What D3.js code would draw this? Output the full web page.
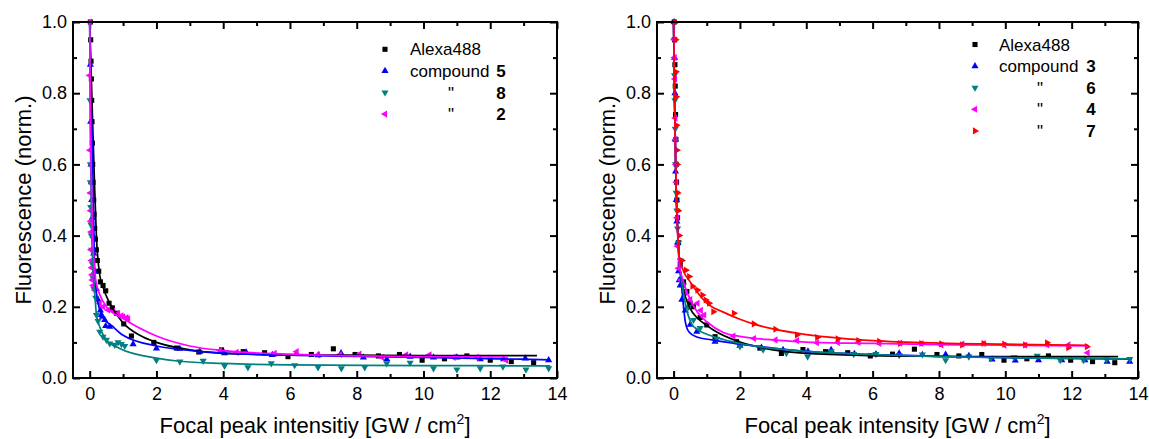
<!DOCTYPE html>
<html>
<head>
<meta charset="utf-8">
<script src="https://cdn.jsdelivr.net/npm/d3@7"></script>
<style>
  body { margin: 0; background: #fff; }
  svg { font-family: "Liberation Sans", Arial, sans-serif; }
  .tick line { stroke: #000; stroke-width: 2; }
  .tick text { font-size: 18px; fill: #000; }
</style>
</head>
<body>
<svg id="chart" width="1149" height="439"></svg>
<script>
// ---- left panel: measured points [intensity, fluorescence] ----
let leftAlexa = [[0.02,1.0],[0.03,0.95],[0.04,0.89],[0.05,0.84],[0.06,0.78],[0.07,0.72],[0.08,0.66],[0.09,0.6],[0.1,0.55],[0.12,0.5],[0.13,0.46],[0.15,0.42],[0.17,0.39],[0.2,0.36],[0.23,0.33],[0.27,0.3],[0.32,0.27],[0.4,0.26],[0.48,0.245],[0.58,0.21],[0.68,0.197],[0.8,0.182],[1.02,0.152],[1.25,0.118],[1.92,0.1],[2.6,0.084],[3.27,0.073],[3.95,0.079],[4.6,0.074],[5.24,0.071],[5.94,0.06],[6.64,0.066],[7.3,0.082],[7.95,0.066],[8.65,0.062],[9.28,0.066],[9.96,0.05],[10.63,0.054],[11.3,0.062],[12.0,0.05],[12.63,0.046],[13.3,0.043]];
let leftC5 = [[0.02,0.88],[0.03,0.72],[0.04,0.6],[0.05,0.55],[0.06,0.5],[0.08,0.45],[0.1,0.4],[0.12,0.35],[0.15,0.3],[0.2,0.25],[0.25,0.22],[0.32,0.19],[0.35,0.177],[0.38,0.172],[0.45,0.163],[0.48,0.146],[0.6,0.144],[1.3,0.095],[2.0,0.083],[2.7,0.082],[3.3,0.074],[4.04,0.07],[4.69,0.072],[5.47,0.065],[6.2,0.068],[6.85,0.064],[7.53,0.07],[8.2,0.058],[8.9,0.053],[9.6,0.06],[10.3,0.058],[11.0,0.058],[11.7,0.053],[12.4,0.053],[13.05,0.055],[13.75,0.05]];
let leftC8 = [[0.01,0.78],[0.02,0.6],[0.02,0.55],[0.03,0.48],[0.04,0.43],[0.05,0.4],[0.06,0.36],[0.08,0.32],[0.1,0.28],[0.13,0.25],[0.18,0.225],[0.2,0.177],[0.25,0.16],[0.3,0.13],[0.4,0.116],[0.5,0.107],[0.6,0.097],[0.75,0.093],[0.85,0.1],[0.95,0.095],[1.05,0.09],[2.0,0.05],[2.7,0.046],[3.4,0.048],[4.04,0.034],[4.74,0.03],[5.44,0.041],[6.14,0.036],[6.84,0.03],[7.54,0.027],[8.24,0.03],[8.9,0.041],[9.6,0.043],[10.3,0.027],[11.0,0.024],[11.7,0.027],[12.38,0.032],[13.07,0.024],[13.75,0.027]];
let leftC2 = [[0.0,1.0],[0.0,0.85],[0.01,0.64],[0.02,0.52],[0.03,0.47],[0.03,0.44],[0.04,0.41],[0.04,0.36],[0.05,0.33],[0.06,0.31],[0.07,0.29],[0.08,0.275],[0.1,0.26],[0.15,0.247],[0.3,0.21],[0.4,0.2],[0.55,0.191],[0.7,0.188],[0.85,0.182],[0.95,0.175],[1.0,0.172],[1.1,0.17],[1.15,0.166],[3.9,0.077],[4.4,0.072],[5.54,0.069],[6.2,0.074],[6.84,0.065],[7.5,0.066],[8.08,0.067],[8.76,0.058],[9.48,0.065],[10.18,0.065],[10.9,0.058],[11.6,0.058],[12.47,0.05]];

// ---- left panel: fitted curves ----
let leftAlexaFit = [[0.0,1.0],[0.05,0.84],[0.1,0.68],[0.15,0.53],[0.2,0.4],[0.3,0.29],[0.4,0.255],[0.6,0.21],[1.0,0.155],[1.5,0.12],[2.0,0.1],[3.0,0.079],[4.0,0.069],[6.0,0.065],[8.0,0.064],[10.0,0.063],[13.4,0.063]];
let leftC5Fit = [[0.0,1.0],[0.05,0.75],[0.1,0.56],[0.15,0.3],[0.25,0.21],[0.4,0.172],[0.7,0.144],[1.0,0.12],[2.0,0.09],[2.7,0.08],[4.0,0.07],[6.0,0.064],[10.0,0.058],[13.8,0.051]];
let leftC8Fit = [[0.0,1.0],[0.02,0.7],[0.05,0.45],[0.1,0.31],[0.15,0.24],[0.2,0.18],[0.3,0.144],[0.5,0.107],[0.9,0.083],[2.0,0.056],[2.7,0.047],[4.0,0.041],[6.0,0.037],[10.0,0.035],[13.8,0.034]];
let leftC2Fit = [[0.0,1.0],[0.02,0.75],[0.05,0.55],[0.1,0.38],[0.15,0.3],[0.2,0.265],[0.3,0.235],[0.5,0.2],[1.0,0.167],[2.0,0.118],[3.0,0.09],[4.0,0.077],[6.0,0.067],[8.0,0.062],[10.0,0.06],[12.5,0.059]];

// ---- right panel: measured points ----
let rightAlexa = [[0.02,1.0],[0.03,0.95],[0.04,0.88],[0.05,0.82],[0.06,0.74],[0.07,0.67],[0.08,0.6],[0.09,0.55],[0.1,0.5],[0.12,0.45],[0.15,0.38],[0.2,0.32],[0.3,0.27],[0.4,0.243],[0.5,0.21],[0.6,0.2],[0.8,0.17],[1.0,0.149],[1.25,0.116],[1.9,0.102],[2.6,0.084],[3.25,0.069],[3.9,0.08],[4.58,0.074],[5.25,0.071],[5.93,0.062],[6.6,0.067],[7.26,0.081],[7.94,0.066],[8.6,0.062],[9.29,0.066],[9.96,0.05],[10.65,0.054],[11.3,0.062],[11.97,0.05],[12.63,0.046],[13.3,0.043]];
let rightC3 = [[0.02,1.0],[0.03,0.9],[0.04,0.8],[0.05,0.67],[0.06,0.58],[0.08,0.5],[0.1,0.44],[0.12,0.38],[0.15,0.3],[0.17,0.275],[0.2,0.26],[0.25,0.22],[0.35,0.19],[0.5,0.15],[0.7,0.13],[1.25,0.102],[2.0,0.091],[2.65,0.085],[3.3,0.079],[4.05,0.075],[4.75,0.079],[5.45,0.068],[6.1,0.067],[6.8,0.069],[7.5,0.065],[8.2,0.066],[8.9,0.062],[9.6,0.052],[10.3,0.049],[11.0,0.05],[11.7,0.05],[12.4,0.05],[13.07,0.046],[13.75,0.046]];
let rightC6 = [[0.02,0.95],[0.03,0.85],[0.04,0.78],[0.05,0.7],[0.06,0.6],[0.08,0.52],[0.1,0.47],[0.12,0.42],[0.15,0.38],[0.2,0.33],[0.3,0.26],[0.45,0.2],[0.6,0.163],[0.8,0.14],[1.3,0.11],[2.0,0.089],[2.7,0.08],[3.4,0.07],[4.04,0.06],[4.75,0.075],[5.43,0.067],[6.1,0.067],[6.8,0.064],[7.5,0.066],[8.2,0.05],[8.9,0.06],[9.56,0.055],[10.26,0.058],[10.96,0.062],[11.66,0.05],[12.36,0.05],[13.05,0.052],[13.75,0.053]];
let rightC4 = [[0.02,0.95],[0.03,0.9],[0.04,0.84],[0.05,0.73],[0.06,0.67],[0.07,0.6],[0.08,0.55],[0.1,0.45],[0.12,0.37],[0.15,0.308],[0.22,0.275],[0.35,0.24],[0.5,0.22],[0.72,0.21],[0.82,0.19],[0.92,0.177],[1.8,0.118],[2.42,0.111],[3.07,0.107],[3.72,0.105],[4.32,0.099],[4.95,0.1],[5.57,0.1],[6.2,0.097],[6.83,0.098],[7.47,0.097],[8.07,0.093],[8.7,0.095],[9.35,0.097],[9.97,0.092],[10.6,0.092],[11.26,0.093],[11.9,0.093],[12.48,0.071]];
let rightC7 = [[0.05,1.0],[0.06,0.95],[0.07,0.86],[0.08,0.79],[0.09,0.71],[0.1,0.64],[0.11,0.6],[0.12,0.52],[0.14,0.47],[0.17,0.4],[0.25,0.33],[0.37,0.303],[0.47,0.285],[0.57,0.258],[0.72,0.247],[0.87,0.233],[0.97,0.219],[1.07,0.21],[1.2,0.186],[1.82,0.182],[2.42,0.152],[3.07,0.137],[3.72,0.121],[4.33,0.114],[4.95,0.11],[5.57,0.105],[6.2,0.103],[6.83,0.097],[7.47,0.097],[8.07,0.096],[8.7,0.093],[9.35,0.097],[9.97,0.095],[10.6,0.093],[11.26,0.099],[11.9,0.085],[12.46,0.088]];

// ---- right panel: fitted curves ----
let rightAlexaFit = [[0.0,1.0],[0.03,0.78],[0.07,0.56],[0.12,0.42],[0.17,0.33],[0.25,0.27],[0.35,0.23],[0.5,0.195],[0.7,0.17],[1.0,0.148],[1.2,0.135],[2.0,0.101],[3.0,0.079],[4.0,0.069],[6.0,0.063],[8.0,0.061],[10.0,0.06],[13.4,0.06]];
let rightC3Fit = [[0.0,1.0],[0.03,0.78],[0.07,0.56],[0.12,0.42],[0.17,0.33],[0.25,0.25],[0.3,0.2],[0.35,0.16],[0.46,0.13],[0.7,0.115],[1.15,0.107],[2.0,0.095],[3.0,0.084],[4.1,0.074],[6.0,0.066],[8.0,0.061],[10.0,0.057],[13.8,0.053]];
let rightC6Fit = [[0.0,1.0],[0.03,0.78],[0.07,0.56],[0.12,0.42],[0.17,0.33],[0.25,0.27],[0.35,0.21],[0.54,0.153],[0.72,0.136],[0.95,0.125],[1.5,0.108],[2.0,0.097],[3.0,0.083],[4.0,0.075],[6.0,0.066],[8.0,0.06],[10.0,0.057],[13.8,0.054]];
let rightC4Fit = [[0.0,1.0],[0.03,0.78],[0.07,0.56],[0.12,0.41],[0.17,0.32],[0.3,0.27],[0.5,0.22],[0.72,0.185],[1.0,0.158],[1.5,0.128],[2.0,0.117],[3.0,0.107],[4.0,0.101],[6.0,0.097],[8.0,0.094],[10.0,0.092],[12.5,0.09]];
let rightC7Fit = [[0.0,1.0],[0.03,0.78],[0.07,0.56],[0.12,0.42],[0.17,0.34],[0.3,0.3],[0.5,0.27],[0.72,0.24],[1.0,0.21],[1.5,0.185],[2.0,0.165],[2.4,0.152],[3.0,0.138],[4.0,0.122],[5.0,0.112],[6.0,0.105],[8.0,0.098],[10.0,0.095],[12.5,0.092]];

// axis ticks
let xMajor = [0, 2, 4, 6, 8, 10, 12, 14];
let xMinor = [1, 3, 5, 7, 9, 11, 13];
let yMajor = [0.0, 0.2, 0.4, 0.6, 0.8, 1.0];
let yMinor = [0.1, 0.3, 0.5, 0.7, 0.9];

let black = "#000000", blue = "#0000ff", teal = "#008080", magenta = "#ff00ff", red = "#ff0000";
let fitWidth = 1.7;

let svg = d3.select("#chart");
let plotTop = 22, plotBottom = 378;

function markerPath(kind) {
  if (kind == "square") return d3.symbol(d3.symbolSquare, 26)();
  return d3.symbol(d3.symbolTriangle, 22)();
}
let markerRot = { square: 0, up: 0, down: 180, left: -90, right: 90 };

function drawPanel(left, right, xTitle, series, lg) {
  let x = d3.scaleLinear().domain([-0.5, 14]).range([left, right]);
  let y = d3.scaleLinear().domain([0, 1]).range([plotBottom, plotTop]);
  let g = svg.append("g");

  // ticks (all pointing inward, Origin style)
  g.append("g").attr("transform", `translate(0,${plotBottom})`)
    .call(d3.axisBottom(x).tickValues(xMajor).tickSize(-7).tickPadding(9).tickFormat(d3.format("d")));
  g.append("g").attr("transform", `translate(0,${plotBottom})`)
    .call(d3.axisBottom(x).tickValues(xMinor).tickSize(-4).tickFormat(""));
  g.append("g").attr("transform", `translate(0,${plotTop})`)
    .call(d3.axisTop(x).tickValues(xMajor).tickSize(-7).tickFormat(""));
  g.append("g").attr("transform", `translate(0,${plotTop})`)
    .call(d3.axisTop(x).tickValues(xMinor).tickSize(-4).tickFormat(""));
  g.append("g").attr("transform", `translate(${left},0)`)
    .call(d3.axisLeft(y).tickValues(yMajor).tickSize(-7).tickPadding(6).tickFormat(d3.format(".1f")));
  g.append("g").attr("transform", `translate(${left},0)`)
    .call(d3.axisLeft(y).tickValues(yMinor).tickSize(-4).tickFormat(""));
  g.append("g").attr("transform", `translate(${right},0)`)
    .call(d3.axisRight(y).tickValues(yMajor).tickSize(-7).tickFormat(""));
  g.append("g").attr("transform", `translate(${right},0)`)
    .call(d3.axisRight(y).tickValues(yMinor).tickSize(-4).tickFormat(""));
  g.selectAll(".domain").remove();

  // data
  let line = d3.line().x(d => x(d[0])).y(d => y(d[1])).curve(d3.curveMonotoneX);
  series.forEach(s => {
    g.append("g").selectAll("path")
      .data(s.points)
      .enter()
      .append("path")
      .attr("d", markerPath(s.marker))
      .attr("transform", d => `translate(${x(d[0])},${y(d[1])}) rotate(${markerRot[s.marker]})`)
      .attr("fill", s.color);
  });
  series.forEach(s => {
    g.append("path")
      .datum(s.fit)
      .attr("d", line)
      .attr("fill", "none")
      .attr("stroke", s.color)
      .attr("stroke-width", fitWidth);
  });

  // frame
  g.append("rect")
    .attr("x", left).attr("y", plotTop)
    .attr("width", right - left).attr("height", plotBottom - plotTop)
    .attr("fill", "none").attr("stroke", "#000").attr("stroke-width", 2);

  // titles
  let xt = g.append("text")
    .attr("x", (left + right) / 2).attr("y", 433)
    .attr("text-anchor", "middle").attr("font-size", 22);
  xt.append("tspan").text(xTitle + " [GW / cm");
  xt.append("tspan").attr("dy", -9).attr("font-size", 14).text("2");
  xt.append("tspan").attr("dy", 9).text("]");

  g.append("text")
    .attr("transform", `translate(${left - 42},${(plotTop + plotBottom) / 2}) rotate(-90)`)
    .attr("text-anchor", "middle").attr("font-size", 22)
    .text("Fluorescence (norm.)");

  // legend
  let leg = g.append("g").attr("class", "legend");
  series.forEach((s, i) => {
    let yy = lg.y + i * 21.6;
    leg.append("path")
      .attr("d", markerPath(s.marker))
      .attr("transform", `translate(${lg.mx},${yy}) rotate(${markerRot[s.marker]})`)
      .attr("fill", s.color);
    if (i == 0) {
      leg.append("text").attr("x", lg.tx).attr("y", yy + 6).attr("font-size", 17).text(s.name);
    } else {
      if (i == 1) {
        leg.append("text").attr("x", lg.tx).attr("y", yy + 6).attr("font-size", 17).text("compound");
      } else {
        leg.append("text").attr("x", lg.qx).attr("y", yy + 6).attr("font-size", 17)
          .attr("text-anchor", "middle").text('"');
      }
      leg.append("text").attr("x", lg.nx).attr("y", yy + 6).attr("font-size", 17)
        .attr("font-weight", "bold").attr("text-anchor", "middle").text(s.name);
    }
  });
}

drawPanel(73, 557, "Focal peak intensitiy", [
  { name: "Alexa488", marker: "square", color: black, points: leftAlexa, fit: leftAlexaFit },
  { name: "5", marker: "up", color: blue, points: leftC5, fit: leftC5Fit },
  { name: "8", marker: "down", color: teal, points: leftC8, fit: leftC8Fit },
  { name: "2", marker: "left", color: magenta, points: leftC2, fit: leftC2Fit }
], { y: 49.3, mx: 385, tx: 410, qx: 451, nx: 501 });

drawPanel(657, 1138, "Focal peak intensity", [
  { name: "Alexa488", marker: "square", color: black, points: rightAlexa, fit: rightAlexaFit },
  { name: "3", marker: "up", color: blue, points: rightC3, fit: rightC3Fit },
  { name: "6", marker: "down", color: teal, points: rightC6, fit: rightC6Fit },
  { name: "4", marker: "left", color: magenta, points: rightC4, fit: rightC4Fit },
  { name: "7", marker: "right", color: red, points: rightC7, fit: rightC7Fit }
], { y: 44.5, mx: 975, tx: 999, qx: 1040, nx: 1091 });
</script>
</body>
</html>
